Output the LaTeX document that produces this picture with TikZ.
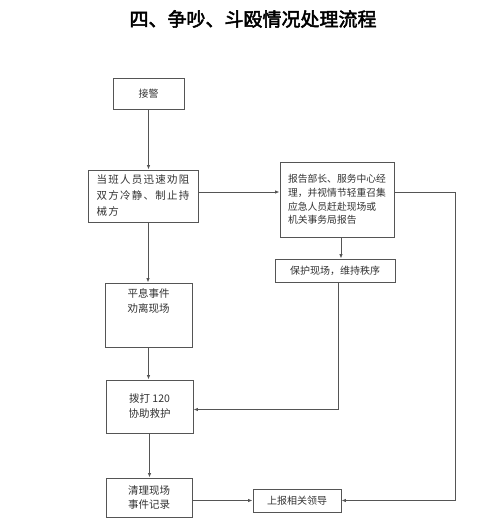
\documentclass[tikz,border=0pt]{standalone}
\usepackage{fontspec}
\newfontfamily\cjk{Noto Sans CJK SC}
\newfontfamily\cjkbold{Noto Sans CJK SC}[FakeBold=2.5]
\usetikzlibrary{arrows.meta}
\definecolor{linegray}{HTML}{555555}
\definecolor{textgray}{HTML}{333333}
\tikzset{
  box/.style={draw=linegray, line width=0.9pt, rectangle, inner sep=0pt, font=\cjk\fontsize{10}{13.5}\selectfont, text=textgray, align=center},
  conn/.style={draw=linegray, line width=0.9pt},
  arr/.style={conn, -{Latex[length=4.5pt,width=3.5pt]}}
}
\begin{document}
\begin{tikzpicture}[x=1pt,y=-1pt]
\useasboundingbox[fill=white] (0,0) rectangle (500,528);
\node[font=\cjkbold\fontsize{19}{22}\selectfont, text=black] (title) at (253,19) {四、争吵、斗殴情况处理流程};

\node[box, minimum width=71pt, minimum height=31pt] (b1) at (148.5,93.5) {接警};
\node[box, minimum width=110pt, minimum height=52pt, align=left, font=\cjk\fontsize{10.5}{16}\selectfont\addfontfeature{LetterSpace=12}] (b2) at (143,196) {当班人员迅速劝阻\\双方冷静、制止持\\械方\hspace*{5.1em}};
\node[box, minimum width=114pt, minimum height=75pt, align=left, font=\cjk\fontsize{9.8}{13.8}\selectfont] (b3) at (337,199.5) {报告部长、服务中心经\\理，并视情节轻重召集\\应急人员赶赴现场或\\机关事务局报告};
\node[box, minimum width=120pt, minimum height=23pt] (b4) at (335,270.5) {保护现场，维持秩序};
\node[box, minimum width=87pt, minimum height=64pt, font=\cjk\fontsize{10.5}{15}\selectfont] (b5) at (148.5,315) {平息事件\\劝离现场\\[10pt]\strut};
\node[box, minimum width=87pt, minimum height=53pt, font=\cjk\fontsize{10.5}{15}\selectfont] (b6) at (149.5,406.5) {拨打 120\\协助救护};
\node[box, minimum width=86pt, minimum height=39pt, font=\cjk\fontsize{10.5}{13.5}\selectfont] (b7) at (149,497.5) {清理现场\\事件记录};
\node[box, minimum width=88pt, minimum height=23pt] (b8) at (297,500.5) {上报相关领导};

\coordinate (rt) at (455,0);

\draw[arr] (b1.south) -- (b1.south |- b2.north);
\draw[arr] ([yshift=4pt]b2.east) -- ([yshift=4pt]b2.east -| b3.west);
\draw[arr] ([xshift=4pt]b3.south) -- ([xshift=4pt]b3.south |- b4.north);
\draw[arr] ([yshift=7.5pt]b3.east) -| (rt |- b8.east) -- (b8.east);
\draw[arr] ([xshift=3pt]b4.south) |- ([yshift=-3pt]b6.east);
\draw[arr] ([xshift=5pt]b2.south) -- ([xshift=5pt]b2.south |- b5.north);
\draw[arr] (b5.south) -- (b5.south |- b6.north);
\draw[arr] (b6.south) -- (b6.south |- b7.north);
\draw[arr] (b7.east |- b8.west) -- (b8.west);
\end{tikzpicture}
\end{document}
